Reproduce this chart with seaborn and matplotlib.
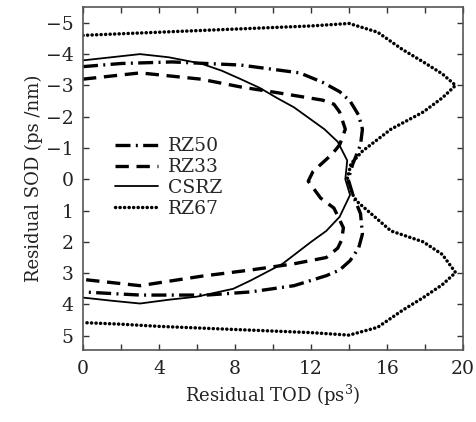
import matplotlib
matplotlib.use("Agg")
import matplotlib.pyplot as plt
import numpy as np
import seaborn as sns

# curves (x = residual TOD, y = residual SOD)
rz50_x = [0, 2, 4.7, 8.3, 11.4, 12.6, 13.5, 14.05, 14.5, 14.7, 14.6, 14.2, 13.95, 14.2, 14.6, 14.7, 14.5, 14.05, 13.5, 12.8, 11.1, 8.8, 6.5, 3.0, 0]
rz50_y = [-3.6, -3.7, -3.75, -3.65, -3.4, -3.1, -2.8, -2.5, -2.05, -1.6, -1.1, -0.5, 0, 0.5, 1.1, 1.75, 2.2, 2.6, 2.9, 3.08, 3.4, 3.6, 3.7, 3.7, 3.6]

rz33_x = [0, 3.0, 6.2, 8.3, 10.4, 12.6, 13.2, 13.5, 13.8, 13.5, 13.1, 12.1, 11.85, 12.5, 13.2, 13.7, 13.6, 13.4, 12.8, 11.1, 8.8, 6.2, 3.0, 0]
rz33_y = [-3.2, -3.4, -3.2, -2.95, -2.75, -2.53, -2.4, -2.15, -1.6, -1.1, -0.8, -0.25, 0.06, 0.6, 0.92, 1.55, 1.95, 2.2, 2.5, 2.7, 2.9, 3.1, 3.4, 3.2]

csrz_x = [0, 1.5, 3, 4.5, 6.2, 7.3, 8.3, 9.3, 10.2, 11.1, 11.9, 12.7, 13.4, 13.9, 13.8, 14.05, 13.5, 12.8, 12, 10.5, 8.8, 7.9, 6, 4.5, 3, 1.5, 0]
csrz_y = [-3.8, -3.9, -4.0, -3.9, -3.7, -3.47, -3.2, -2.92, -2.6, -2.3, -1.95, -1.6, -1.2, -0.6, 0, 0.5, 1.2, 1.65, 2.0, 2.7, 3.24, 3.5, 3.75, 3.85, 3.97, 3.88, 3.78]

rz67_x = [0, 2, 4, 6, 8, 10, 12, 14, 15.5, 16.8, 17.9, 18.9, 19.6, 18.9, 17.9, 16.2, 14.7, 14.1, 13.9, 14.2, 14.4, 16.2, 17.9, 18.9, 19.6, 18.9, 17.9, 16.8, 15.5, 14, 12, 10, 8, 6, 4, 2, 0]
rz67_y = [-4.6, -4.65, -4.7, -4.75, -4.8, -4.85, -4.9, -4.98, -4.7, -4.15, -3.75, -3.37, -3.0, -2.6, -2.15, -1.6, -0.9, -0.5, 0, 0.5, 0.7, 1.65, 2.0, 2.4, 2.98, 3.37, 3.78, 4.19, 4.73, 4.98, 4.9, 4.85, 4.8, 4.75, 4.7, 4.63, 4.58]

sns.set_style("ticks")
plt.rcParams['font.family'] = ['DejaVu Serif']
plt.rcParams['mathtext.fontset'] = 'dejavuserif'

fig = plt.figure(figsize=(4.77, 4.22), dpi=100)
ax = fig.add_axes([0.174, 0.171, 0.797, 0.812])

common = dict(sort=False, estimator=None, errorbar=None, ax=ax, color='black')
sns.lineplot(x=rz50_x, y=rz50_y, lw=2.4, linestyle=(0, (4.5, 1.6, 0.6, 1.6)),
             label='RZ50', **common)
sns.lineplot(x=rz33_x, y=rz33_y, lw=2.4, linestyle=(0, (4.0, 2.3)),
             label='RZ33', **common)
sns.lineplot(x=csrz_x, y=csrz_y, lw=1.3, linestyle='-', label='CSRZ', **common)
sns.lineplot(x=rz67_x, y=rz67_y, lw=2.5, linestyle=(0, (0.05, 1.25)),
             dash_capstyle='round', label='RZ67', **common)

ax.set_xlim(0, 20)
ax.set_ylim(5.45, -5.5)
ax.set_xticks(np.arange(0, 21, 4))
ax.set_xticks(np.arange(2, 20, 4), minor=True)
ax.set_yticks(np.arange(-5, 6, 1))
ax.tick_params(which='both', direction='in', top=True, right=True, length=4,
               width=1, labelsize=13.5, pad=7, colors='#333333', labelcolor='#222222')
for s in ax.spines.values():
    s.set_color('#555555')
    s.set_linewidth(1.2)

ax.set_xlabel(r'Residual TOD (ps$^3$)', fontsize=13, color='#222222', labelpad=4)
ax.set_ylabel('Residual SOD (ps /nm)', fontsize=13, color='#222222', labelpad=2)

ax.legend(loc='center left', bbox_to_anchor=(0.085, 0.503), frameon=False,
          fontsize=13.5, handlelength=2.3, handletextpad=0.5, labelspacing=0.15,
          borderpad=0, borderaxespad=0)

fig.savefig('out.png', dpi=100)
